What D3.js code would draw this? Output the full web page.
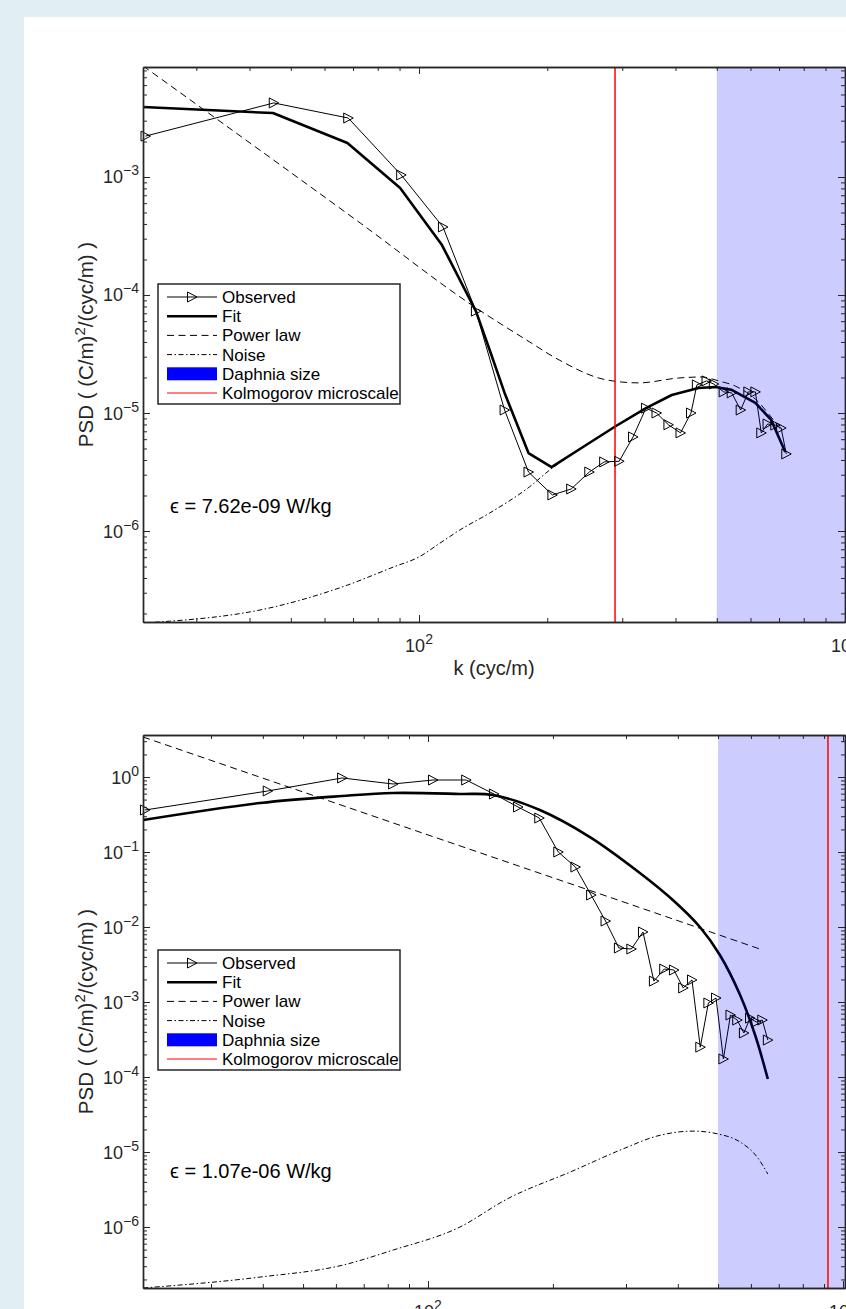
<!DOCTYPE html>
<html><head><meta charset="utf-8">
<script src="https://cdn.jsdelivr.net/npm/d3@7"></script>
<style>
body{margin:0;background:#e1eff4;}
svg{display:block;font-family:"Liberation Sans",Arial,Helvetica,sans-serif;}
</style>
</head><body>
<svg id="c" width="846" height="1309"></svg>
<script>
// ---------------- DATA ----------------
// Top panel
const topObsK = [22.8,45.6,68.2,90.8,113.8,136,158.8,180.7,205.6,227.6,251,272,295,318,341,361,385,411,435,449,473,492,519,542,569,593,616,636,658,686,708,728];
const topObs  = [2.22e-3,4.24e-3,3.16e-3,1.04e-3,3.77e-4,7.3e-5,1.06e-5,3.16e-6,2.02e-6,2.27e-6,3.16e-6,3.85e-6,3.9e-6,6.27e-6,1.10e-5,1.0e-5,7.95e-6,6.78e-6,1.0e-5,1.73e-5,1.87e-5,1.76e-5,1.51e-5,1.48e-5,1.06e-5,1.51e-5,1.51e-5,6.78e-6,8.07e-6,7.9e-6,7.46e-6,4.5e-6];
const topFitK = [22.5,45.4,67.9,90.3,113.2,136,146.5,158.8,180.7,204.7,251,290,341,392,453,497,542,616,671,724];
const topFit  = [3.92e-3,3.48e-3,1.94e-3,8.07e-4,2.65e-4,7.3e-5,3.42e-5,1.48e-5,4.58e-6,3.48e-6,5.57e-6,7.76e-6,1.10e-5,1.42e-5,1.63e-5,1.66e-5,1.57e-5,1.22e-5,8.73e-6,4.67e-6];
const topPowK = [22.5,72.8,135.2,178.7,213.4,275,328,407,461,505,553,626,679,708];
const topPow  = [8.73e-3,4.07e-4,7.9e-5,4.16e-5,2.81e-5,1.91e-5,1.8e-5,1.98e-5,2.02e-5,1.87e-5,1.69e-5,1.24e-5,8.73e-6,7.18e-6];
const topNoiseK = [22.5,45.6,67.9,87.0,100,112,124.7,146.5,181.5,205.6,219];
const topNoise  = [1.66e-7,2.27e-7,3.48e-7,4.95e-7,6.03e-7,7.9e-7,1.02e-6,1.42e-6,2.36e-6,3.42e-6,4.0e-6];
const topKolmogorov = 288.5;
const topEpsilon = "7.62e-09";

// Bottom panel
const botObsK = [20.8,41.1,62.1,82.4,102.8,123.6,144.2,164.8,185.4,206,226.6,247.2,267.8,288.4,309,329.6,350.2,370.8,391.4,412,432.6,453,473.8,494.4,515,535.6,556,577,597,618,639,659];
const botObs  = [0.363,0.651,0.97,0.807,0.912,0.912,0.593,0.398,0.284,0.1,0.063,0.0267,0.012,5.25e-3,5.09e-3,8.58e-3,1.9e-3,2.75e-3,2.67e-3,1.54e-3,1.97e-3,2.5e-4,9.7e-4,1.13e-3,1.74e-4,6.71e-4,5.75e-4,3.86e-4,6.1e-4,5.41e-4,5.75e-4,3.11e-4];
const botFitK = [20.6,39.4,62.1,82.4,119.4,143.5,186,245.6,324,389,452,505,565,614,659];
const botFit  = [0.267,0.45,0.558,0.612,0.594,0.575,0.363,0.158,0.0525,0.0229,0.01,4.23e-3,1.24e-3,3.63e-4,9.4e-5];
const botPowK = [20.6,62.1,100,300,641];
const botPow  = [3.41,0.418,0.169,0.021,4.93e-3];
const botNoiseK = [20.6,39.4,62.4,82.4,119.4,155,223,295,356,435,500,565,621,659];
const botNoise  = [1.54e-7,2.15e-7,3.11e-7,4.93e-7,1.0e-6,2.36e-6,5.58e-6,1.1e-5,1.63e-5,1.9e-5,1.74e-5,1.36e-5,8.58e-6,5.09e-6];
const botKolmogorov = 920;
const botEpsilon = "1.07e-06";

// Shared
const daphniaBand = [500, 3000];
const xMajorTicks = [100, 1000];
const xTickExp = ["2", "3"];
const topYMajor = [1e-3, 1e-4, 1e-5, 1e-6];
const topYExp = ["−3", "−4", "−5", "−6"];
const botYMajor = [1, 1e-1, 1e-2, 1e-3, 1e-4, 1e-5, 1e-6];
const botYExp = ["0", "−1", "−2", "−3", "−4", "−5", "−6"];
const legendLabels = ["Observed", "Fit", "Power law", "Noise", "Daphnia size", "Kolmogorov microscale"];

// ---------------- DRAW ----------------
const svg = d3.select("#c");
svg.append("rect").attr("x",0).attr("y",0).attr("width",846).attr("height",1309).attr("fill","#e1eff4");
svg.append("rect").attr("x",24).attr("y",17).attr("width",830).attr("height",1300).attr("fill","#ffffff");

const AX = "#262626";

function minorTicks(dom){
  const lo = Math.min(dom[0],dom[1]), hi = Math.max(dom[0],dom[1]);
  const out = [];
  for (let e = Math.floor(Math.log10(lo)); e <= Math.ceil(Math.log10(hi)); e++){
    for (let m = 2; m <= 9; m++){ const v = m*Math.pow(10,e); if (v>=lo && v<=hi) out.push(v); }
  }
  return out;
}

function panel(p, id){
  const x = d3.scaleLog().domain(p.xdom).range([p.x0, p.x1]);
  const y = d3.scaleLog().domain(p.ydom).range([p.y1, p.y0]);
  const g = svg.append("g");
  g.append("clipPath").attr("id","clip"+id).append("rect")
    .attr("x",p.x0).attr("y",p.y0).attr("width",p.x1-p.x0).attr("height",p.y1-p.y0);
  const plot = g.append("g").attr("clip-path","url(#clip"+id+")");

  const line = (curve) => d3.line().x(d=>x(d[0])).y(d=>y(d[1])).curve(curve);
  const zip = (a,b) => a.map((v,i)=>[v,b[i]]);

  // Observed
  plot.append("path").attr("d", line(d3.curveLinear)(zip(p.obsK,p.obs)))
    .attr("fill","none").attr("stroke","#000").attr("stroke-width",1);
  // Fit
  plot.append("path").attr("d", line(p.fitCurve)(zip(p.fitK,p.fit)))
    .attr("fill","none").attr("stroke","#000").attr("stroke-width",2.6).attr("stroke-linejoin","round");
  // Power law
  plot.append("path").attr("d", line(d3.curveMonotoneX)(zip(p.powK,p.pow)))
    .attr("fill","none").attr("stroke","#000").attr("stroke-width",1).attr("stroke-dasharray","7,4.5");
  // Noise
  plot.append("path").attr("d", line(d3.curveMonotoneX)(zip(p.noiseK,p.noise)))
    .attr("fill","none").attr("stroke","#000").attr("stroke-width",1).attr("stroke-dasharray","5,2.5,1.5,2.5");
  // Markers (unclipped)
  g.append("g").selectAll("path").data(zip(p.obsK,p.obs)).join("path")
    .attr("transform", d=>`translate(${x(d[0])},${y(d[1])})`)
    .attr("d","M-4.5,-5L5,0L-4.5,5Z").attr("fill","none").attr("stroke","#000").attr("stroke-width",1);
  // Daphnia band (drawn over, translucent)
  plot.append("rect").attr("x", x(daphniaBand[0])).attr("y", p.y0)
    .attr("width", x(daphniaBand[1]) - x(daphniaBand[0])).attr("height", p.y1-p.y0)
    .attr("fill","#0000ff").attr("fill-opacity",0.2);
  // Kolmogorov
  plot.append("line").attr("x1", x(p.kolmo)).attr("x2", x(p.kolmo)).attr("y1", p.y0).attr("y2", p.y1)
    .attr("stroke","#ff0000").attr("stroke-width",1.5);

  // Axes (ticks inward, box)
  const xMin = minorTicks(p.xdom), yMin = minorTicks(p.ydom);
  const styleAx = sel => { sel.selectAll("path.domain").attr("stroke",AX).attr("stroke-width",1.4);
                           sel.selectAll("line").attr("stroke",AX).attr("stroke-width",1); };
  g.append("g").attr("transform",`translate(0,${p.y1})`)
    .call(d3.axisBottom(x).tickValues(xMajorTicks.filter(v=>v<=p.xdom[1])).tickSize(-7).tickSizeOuter(0).tickFormat("")).call(styleAx);
  g.append("g").attr("transform",`translate(0,${p.y1})`)
    .call(d3.axisBottom(x).tickValues(xMin).tickSize(-4).tickSizeOuter(0).tickFormat("")).call(styleAx);
  g.append("g").attr("transform",`translate(0,${p.y0})`)
    .call(d3.axisTop(x).tickValues(xMajorTicks.filter(v=>v<=p.xdom[1])).tickSize(-7).tickSizeOuter(0).tickFormat("")).call(styleAx);
  g.append("g").attr("transform",`translate(0,${p.y0})`)
    .call(d3.axisTop(x).tickValues(xMin).tickSize(-4).tickSizeOuter(0).tickFormat("")).call(styleAx);
  g.append("g").attr("transform",`translate(${p.x0},0)`)
    .call(d3.axisLeft(y).tickValues(p.yMajor).tickSize(-7).tickSizeOuter(0).tickFormat("")).call(styleAx);
  g.append("g").attr("transform",`translate(${p.x0},0)`)
    .call(d3.axisLeft(y).tickValues(yMin).tickSize(-4).tickSizeOuter(0).tickFormat("")).call(styleAx);
  g.append("g").attr("transform",`translate(${p.x1},0)`)
    .call(d3.axisRight(y).tickValues(p.yMajor).tickSize(-7).tickSizeOuter(0).tickFormat("")).call(styleAx);
  g.append("g").attr("transform",`translate(${p.x1},0)`)
    .call(d3.axisRight(y).tickValues(yMin).tickSize(-4).tickSizeOuter(0).tickFormat("")).call(styleAx);

  // X tick labels
  xMajorTicks.forEach((v,i)=>{
    const t = g.append("text").attr("x", x(v)).attr("y", p.y1+30).attr("text-anchor","middle")
      .attr("fill",AX).attr("font-size",18);
    t.append("tspan").text("10");
    t.append("tspan").attr("dy",-8).attr("font-size",14).text(xTickExp[i]);
  });
  // Y tick labels
  p.yMajor.forEach((v,i)=>{
    const t = g.append("text").attr("x", p.x0-4).attr("y", y(v)+6.5).attr("text-anchor","end")
      .attr("fill",AX).attr("font-size",18);
    t.append("tspan").text("10");
    t.append("tspan").attr("dy",-8).attr("font-size",14).text(p.yExp[i]);
  });
  // Y label
  const yl = g.append("text").attr("transform",`translate(93,${(p.y0+p.y1)/2}) rotate(-90)`)
    .attr("text-anchor","middle").attr("fill",AX).attr("font-size",20.5);
  yl.append("tspan").text("PSD ( (C/m)");
  yl.append("tspan").attr("dy",-8).attr("font-size",15).text("2");
  yl.append("tspan").attr("dy",8).text("/(cyc/m) )");
  // X label
  if (p.xlabel){
    g.append("text").attr("x",(p.x0+p.x1)/2).attr("y",p.y1+53).attr("text-anchor","middle")
      .attr("fill",AX).attr("font-size",20).text("k (cyc/m)");
  }
  // Epsilon annotation
  g.append("text").attr("x",170).attr("y",p.epsY).attr("font-size",20).attr("fill","#000")
    .text("ϵ = " + p.eps + " W/kg");

  // Legend
  const L = g.append("g").attr("transform",`translate(158,${p.legY})`);
  L.append("rect").attr("x",0).attr("y",0).attr("width",242).attr("height",120)
    .attr("fill","#fff").attr("stroke",AX).attr("stroke-width",1.5);
  const rowY = i => 13 + i*19.2;
  L.append("line").attr("x1",9).attr("x2",59).attr("y1",rowY(0)).attr("y2",rowY(0)).attr("stroke","#000");
  L.append("path").attr("transform",`translate(34,${rowY(0)})`).attr("d","M-4.5,-5L5,0L-4.5,5Z")
    .attr("fill","none").attr("stroke","#000");
  L.append("line").attr("x1",9).attr("x2",59).attr("y1",rowY(1)).attr("y2",rowY(1)).attr("stroke","#000").attr("stroke-width",2.4);
  L.append("line").attr("x1",9).attr("x2",59).attr("y1",rowY(2)).attr("y2",rowY(2)).attr("stroke","#000").attr("stroke-dasharray","7,4.5");
  L.append("line").attr("x1",9).attr("x2",59).attr("y1",rowY(3)).attr("y2",rowY(3)).attr("stroke","#000").attr("stroke-dasharray","5,2.5,1.5,2.5");
  L.append("rect").attr("x",9).attr("y",rowY(4)-6.5).attr("width",50).attr("height",13).attr("fill","#0000ff");
  L.append("line").attr("x1",9).attr("x2",59).attr("y1",rowY(5)).attr("y2",rowY(5)).attr("stroke","#ff0000").attr("stroke-width",1.2);
  legendLabels.forEach((s,i)=>{
    L.append("text").attr("x",64).attr("y",rowY(i)+6).attr("font-size",17).attr("fill","#000").text(s);
  });
}

panel({
  x0:143, x1:845, y0:67, y1:622,
  xdom:[Math.pow(10,1.352), 1000], ydom:[Math.pow(10,-6.771), Math.pow(10,-2.068)],
  obsK:topObsK, obs:topObs, fitK:topFitK, fit:topFit, fitCurve:d3.curveLinear,
  powK:topPowK, pow:topPow, noiseK:topNoiseK, noise:topNoise, kolmo:topKolmogorov,
  yMajor:topYMajor, yExp:topYExp, xlabel:true, eps:topEpsilon, epsY:513, legY:284
}, 1);

panel({
  x0:143, x1:845, y0:735, y1:1288,
  xdom:[Math.pow(10,1.3133), Math.pow(10,3.0048)], ydom:[Math.pow(10,-6.813), Math.pow(10,0.56)],
  obsK:botObsK, obs:botObs, fitK:botFitK, fit:botFit, fitCurve:d3.curveCatmullRom.alpha(0.5),
  powK:botPowK, pow:botPow, noiseK:botNoiseK, noise:botNoise, kolmo:botKolmogorov,
  yMajor:botYMajor, yExp:botYExp, xlabel:false, eps:botEpsilon, epsY:1178, legY:950
}, 2);
</script>
</body></html>
